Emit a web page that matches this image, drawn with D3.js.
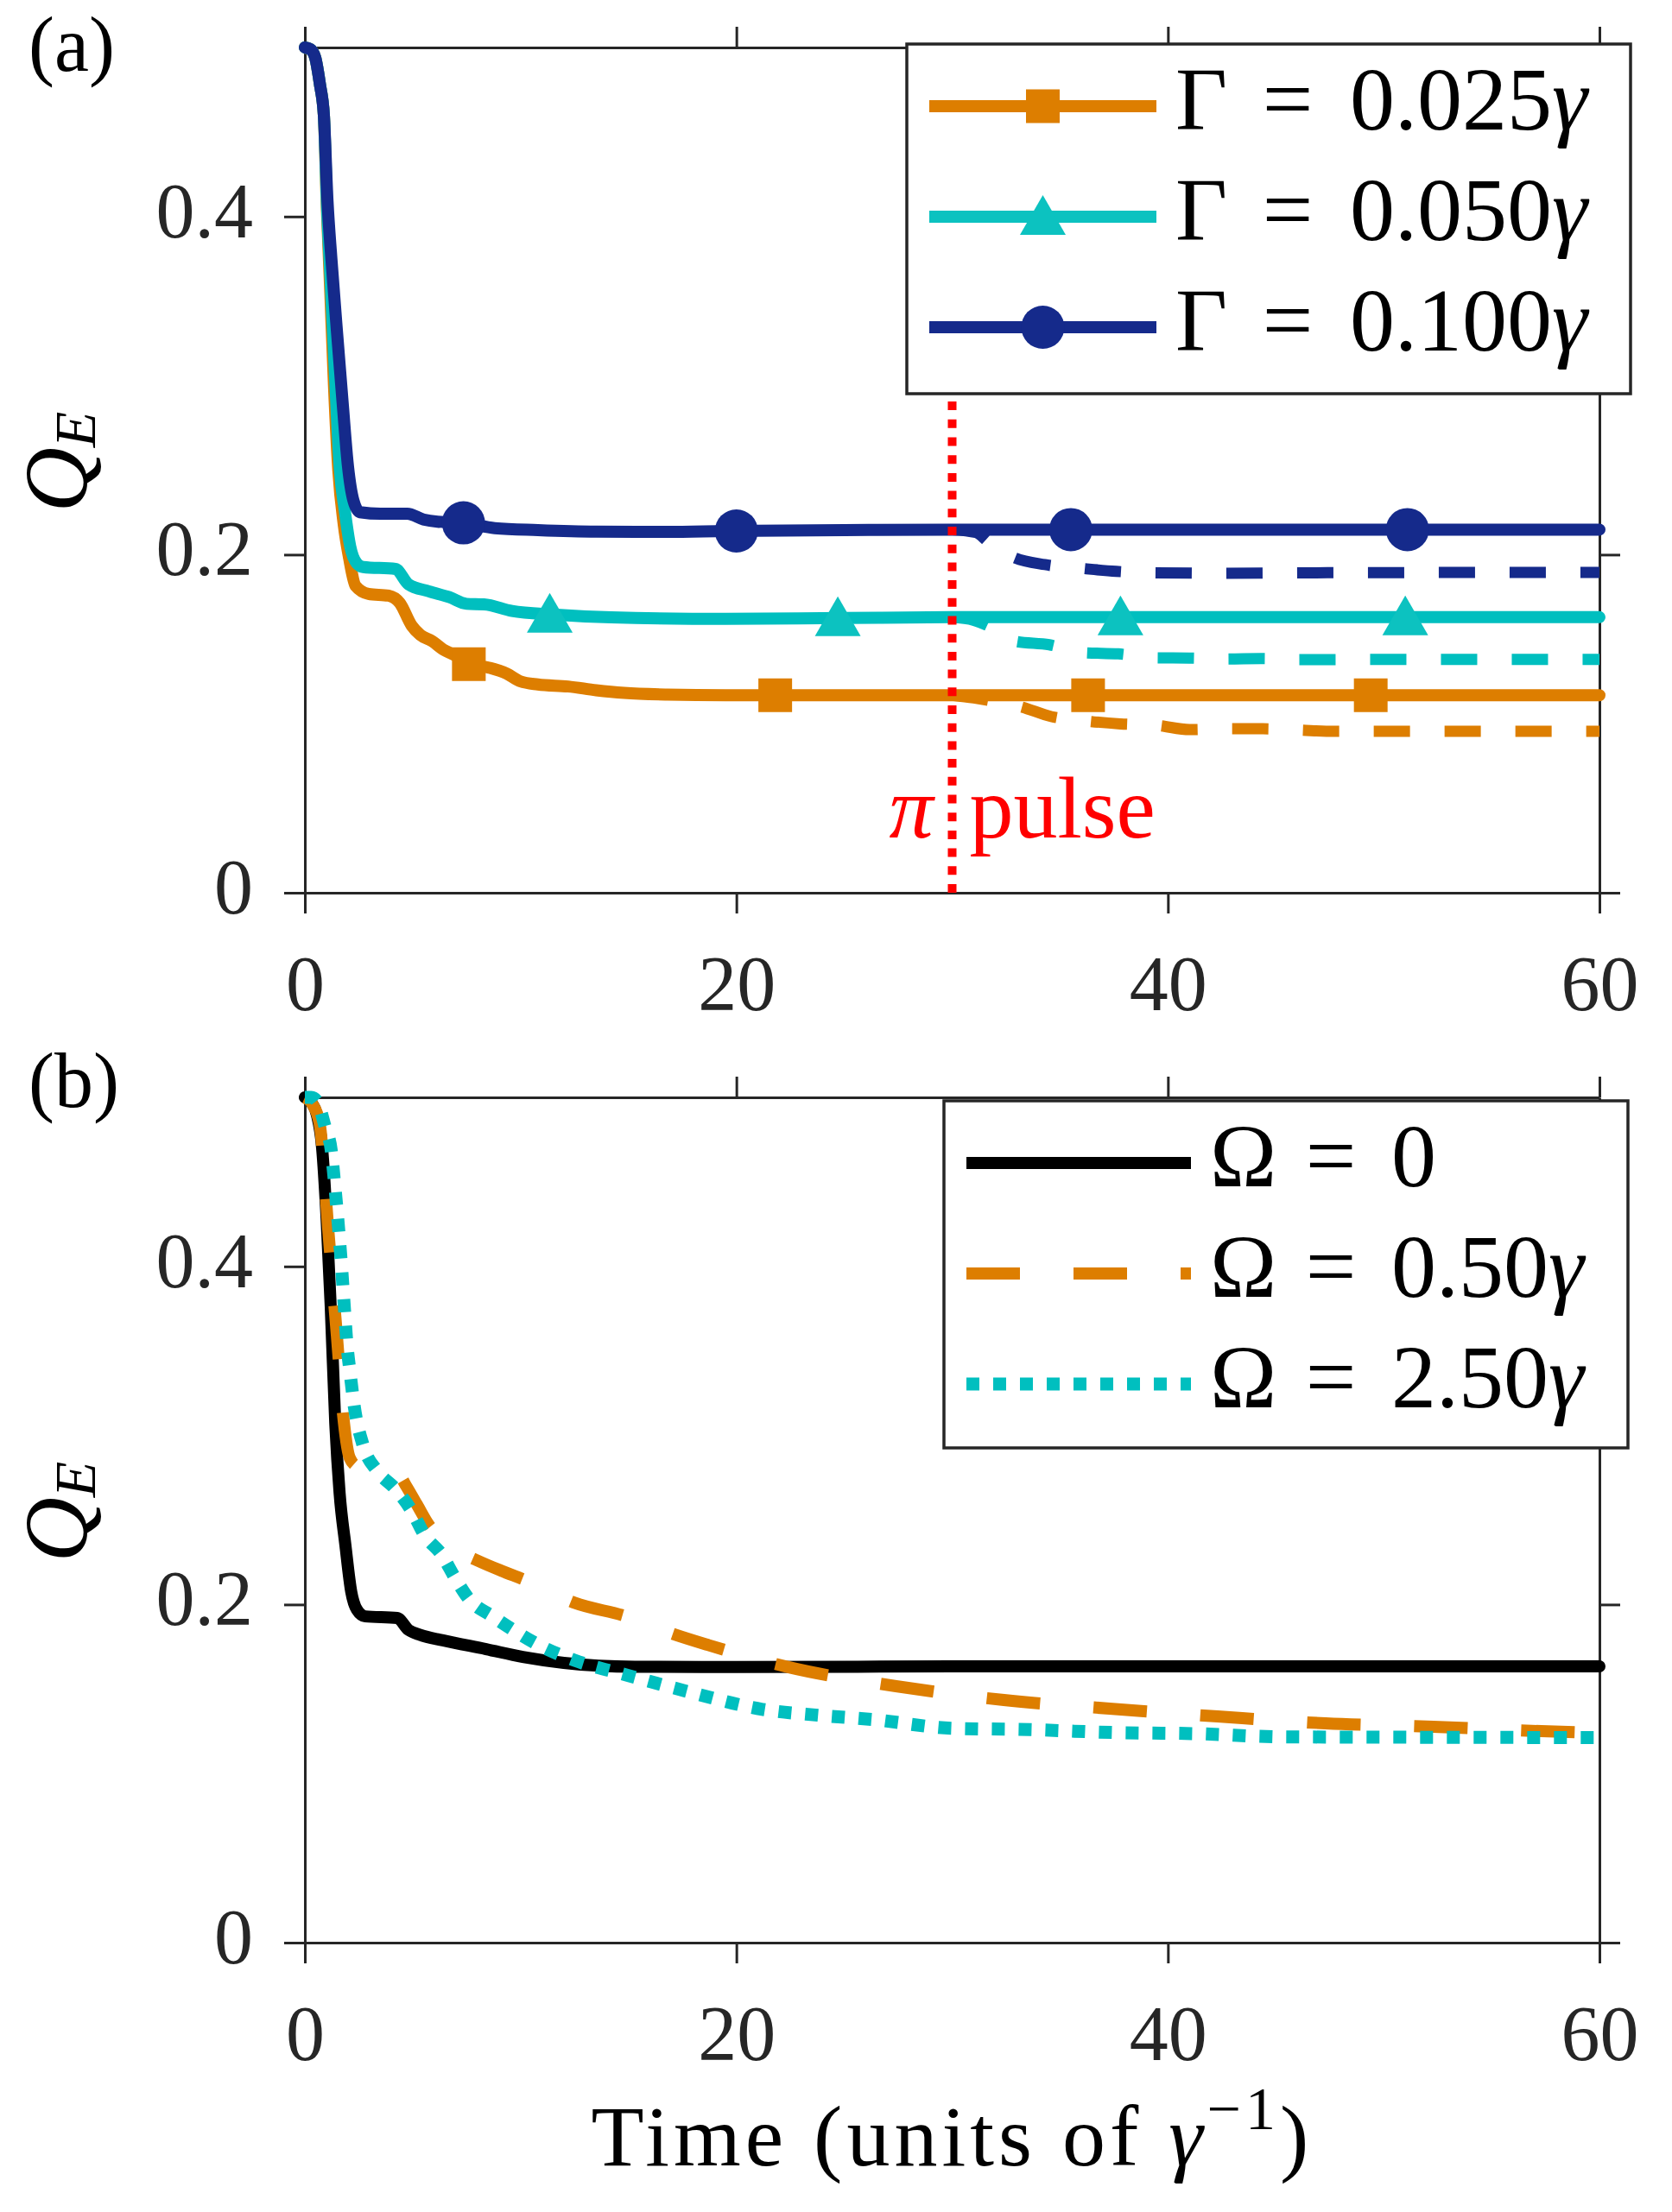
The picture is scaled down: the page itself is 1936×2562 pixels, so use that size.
<!DOCTYPE html>
<html>
<head>
<meta charset="utf-8">
<script src="https://cdn.jsdelivr.net/npm/d3@7"></script>
<style>
  body { margin: 0; background: white; }
  svg { display: block; }
</style>
</head>
<body>
<div id="figure"></div>
<script>
// Two stacked panels of Q_E against time.
// (a) three decay rates, with a pi pulse at t = 30 (dashed = after pulse)
// (b) three drive strengths

const timeTicks = [0, 20, 40, 60];
const qTicks = [0, 0.2, 0.4];

// ---- panel (a) ----
const gammaLabels = ["0.025", "0.050", "0.100"];
const pulseTime = 30;

const g025Time = [0, 0.25, 0.48, 0.7, 0.88, 1.02, 1.18, 1.35, 1.55, 1.8, 2.05, 2.35, 2.95, 3.88, 4.4, 4.95, 5.35, 5.9, 6.4, 6.95, 7.6, 8.55, 9.35, 10.0, 10.8, 12.2, 13.5, 14.8, 16.8, 19.5, 25, 30, 45, 60];
const g025Q = [0.5, 0.499, 0.494, 0.478, 0.46, 0.405, 0.355, 0.3, 0.25, 0.218, 0.198, 0.1815, 0.1768, 0.1757, 0.1714, 0.158, 0.1525, 0.1488, 0.144, 0.1405, 0.1355, 0.1331, 0.1297, 0.125, 0.1232, 0.122, 0.1198, 0.1182, 0.1172, 0.1168, 0.1168, 0.1168, 0.1168, 0.1168];
const g050Time = [0, 0.25, 0.48, 0.7, 0.88, 1.03, 1.2, 1.4, 1.61, 1.85, 2.1, 2.4, 2.7, 4.2, 4.8, 5.75, 6.7, 7.5, 8.3, 9.6, 11.5, 14.2, 19.5, 25, 30, 45, 60];
const g050Q = [0.5, 0.499, 0.494, 0.478, 0.46, 0.405, 0.36, 0.305, 0.252, 0.226, 0.205, 0.195, 0.1927, 0.1915, 0.1825, 0.1783, 0.1748, 0.1709, 0.1706, 0.1667, 0.1646, 0.1629, 0.162, 0.1625, 0.163, 0.163, 0.163];
const g100Time = [0, 0.25, 0.48, 0.7, 0.88, 1.05, 1.23, 1.5, 1.75, 2.0, 2.25, 2.55, 3.5, 4.75, 5.5, 6.15, 7.35, 8.8, 10.8, 13.5, 16.8, 19.5, 25, 30, 45, 60];
const g100Q = [0.5, 0.499, 0.494, 0.478, 0.46, 0.409, 0.375, 0.33, 0.29, 0.252, 0.232, 0.2251, 0.2242, 0.2242, 0.2208, 0.2195, 0.2188, 0.2157, 0.2145, 0.2136, 0.2135, 0.214, 0.2145, 0.2148, 0.2148, 0.2148];

// after the pi pulse
const g025PulseTime = [30, 31, 32, 33.15, 34.6, 36.2, 37.8, 39.5, 41, 42.8, 44.4, 46.1, 47.7, 52, 60];
const g025PulseQ = [0.1168, 0.1152, 0.113, 0.1101, 0.1042, 0.1016, 0.0999, 0.099, 0.0965, 0.097, 0.097, 0.0962, 0.0955, 0.0955, 0.0955];
const g050PulseTime = [30, 31, 31.8, 32.9, 34.5, 36.1, 37.7, 39.4, 41, 42.7, 44.3, 46, 50, 60];
const g050PulseQ = [0.163, 0.1612, 0.157, 0.1488, 0.1467, 0.142, 0.1413, 0.139, 0.1388, 0.1383, 0.1385, 0.1379, 0.138, 0.138];
const g100PulseTime = [30, 31.1, 31.7, 32.8, 34.3, 36, 37.6, 39.3, 42.5, 47.4, 60];
const g100PulseQ = [0.2148, 0.2131, 0.2072, 0.1987, 0.1941, 0.1919, 0.1901, 0.1893, 0.189, 0.1893, 0.1895];

// marker points
const g025MarkTime = [7.6, 21.8, 36.3, 49.4];
const g025MarkQ = [0.1352, 0.1168, 0.1168, 0.1168];
const g050MarkTime = [11.35, 24.7, 37.8, 51.0];
const g050MarkQ = [0.1646, 0.1625, 0.163, 0.163];
const g100MarkTime = [7.35, 20.0, 35.5, 51.1];
const g100MarkQ = [0.2188, 0.214, 0.2148, 0.2148];

// ---- panel (b) ----
const omegaLabels = ["0", "0.50", "2.50"];

const om0Time = [0, 0.3, 0.55, 0.8, 1.0, 1.2, 1.41, 1.61, 1.88, 2.15, 2.41, 2.8, 4.28, 4.8, 5.35, 6.4, 8.4, 10.1, 12, 15.3, 20, 30, 45, 60];
const om0Q = [0.5, 0.497, 0.49, 0.47, 0.43, 0.376, 0.307, 0.266, 0.235, 0.2075, 0.197, 0.193, 0.192, 0.185, 0.182, 0.1788, 0.1736, 0.169, 0.1655, 0.1632, 0.163, 0.1634, 0.1634, 0.1634];
const om050Time = [0, 0.35, 0.68, 1.08, 1.48, 1.81, 2.08, 2.4, 3.0, 3.8, 4.4, 4.7, 5.2, 5.75, 6.5, 7.2, 8.0, 9.1, 10.3, 12.5, 14.9, 17.2, 18.7, 22.4, 27.4, 32.4, 37.3, 42.3, 47.3, 52.3, 57.3, 60];
const om050Q = [0.5, 0.496, 0.4848, 0.4224, 0.3597, 0.3076, 0.2867, 0.282, 0.2805, 0.279, 0.276, 0.27, 0.259, 0.247, 0.238, 0.231, 0.226, 0.22, 0.214, 0.201, 0.193, 0.182, 0.176, 0.163, 0.1517, 0.1435, 0.1384, 0.1338, 0.1297, 0.1277, 0.1251, 0.124];
const om250Time = [0, 0.3, 0.55, 0.95, 1.23, 1.36, 1.5, 1.68, 1.85, 1.95, 2.08, 2.28, 2.68, 3.35, 4.15, 4.95, 5.55, 6.35, 6.95, 7.6, 8.7, 9.7, 11, 12.5, 15, 17.9, 21.2, 23.8, 26.3, 30, 33.6, 37.4, 41.3, 45.4, 50.9, 60];
const om250Q = [0.5, 0.5, 0.498, 0.482, 0.468, 0.4515, 0.432, 0.4035, 0.372, 0.354, 0.339, 0.318, 0.295, 0.279, 0.269, 0.2554, 0.241, 0.2293, 0.216, 0.2033, 0.193, 0.1846, 0.175, 0.167, 0.158, 0.148, 0.138, 0.1345, 0.132, 0.1268, 0.126, 0.1243, 0.1236, 0.1217, 0.1215, 0.1213];

const width = 1936;
const height = 2562;
const serif = "'Liberation Serif', 'Times New Roman', serif";
const axisColour = "#262626";
const orange = "#DD7E00";
const cyan = "#00BFBF";
const navy = "#152A8B";

const svg = d3
  .select("#figure")
  .append("svg")
  .attr("width", width)
  .attr("height", height)
  .attr("viewBox", `0 0 ${width} ${height}`);

svg.append("rect").attr("width", width).attr("height", height).attr("fill", "white");

const x = d3.scaleLinear().domain([0, 60]).range([353, 1852]);

// marker shapes
const squarePath = d3.symbol(d3.symbolSquare, 39 * 39)();
const circlePath = d3.symbol(d3.symbolCircle, Math.PI * 25 * 25)();
const trianglePath = "M0,-25L26.5,21L-26.5,21Z";

function drawAxes(y) {
  const axes = svg.append("g").style("color", axisColour);

  axes
    .append("g")
    .attr("transform", `translate(0,${y(0)})`)
    .call(d3.axisBottom(x).tickValues(timeTicks).tickSize(24).tickSizeOuter(0).tickPadding(48).tickFormat(d3.format("d")));
  axes
    .append("g")
    .attr("transform", `translate(0,${y(0.5)})`)
    .call(d3.axisTop(x).tickValues(timeTicks).tickSize(24).tickSizeOuter(0).tickFormat(""));
  axes
    .append("g")
    .attr("transform", `translate(${x(0)},0)`)
    .call(
      d3.axisLeft(y).tickValues(qTicks).tickSize(24).tickSizeOuter(0).tickPadding(36)
        .tickFormat((d) => (d === 0 ? "0" : d3.format(".1f")(d)))
    );
  axes
    .append("g")
    .attr("transform", `translate(${x(60)},0)`)
    .call(d3.axisRight(y).tickValues(qTicks).tickSize(24).tickSizeOuter(0).tickFormat(""));

  axes.selectAll("path, line").attr("stroke", axisColour).attr("stroke-width", 3);
  axes
    .selectAll("text")
    .style("font-family", serif)
    .style("font-size", "90px")
    .attr("fill", axisColour);
  axes.selectAll("g.tick text").filter(function () {
    return d3.select(this).attr("dy") === "0.32em";
  }).attr("dy", "0.26em");
}

function drawCurve(y, times, values, colour, lineWidth, dash) {
  const line = d3
    .line()
    .x((d) => x(d[0]))
    .y((d) => y(d[1]))
    .curve(d3.curveMonotoneX);

  svg
    .append("path")
    .datum(d3.zip(times, values))
    .attr("d", line)
    .attr("fill", "none")
    .attr("stroke", colour)
    .attr("stroke-width", lineWidth)
    .attr("stroke-linejoin", "round")
    .attr("stroke-linecap", dash ? "butt" : "round")
    .attr("stroke-dasharray", dash || null);
}

function drawMarkers(y, times, values, colour, shape) {
  svg
    .append("g")
    .selectAll("path")
    .data(d3.zip(times, values))
    .join("path")
    .attr("transform", (d) => `translate(${x(d[0])},${y(d[1])})`)
    .attr("d", shape)
    .attr("fill", colour);
}

function yLabel(cy) {
  const t = svg
    .append("text")
    .attr("transform", `translate(100,${cy}) rotate(-90)`)
    .attr("text-anchor", "middle")
    .style("font-family", serif)
    .style("font-style", "italic")
    .style("font-size", "104px")
    .attr("fill", "#000");
  t.append("tspan").text("Q");
  t.append("tspan").attr("dy", 10).style("font-size", "68px").text("E");
}

function panelTag(label, baseline) {
  svg
    .append("text")
    .attr("x", 33)
    .attr("y", baseline)
    .style("font-family", serif)
    .style("font-size", "90px")
    .attr("fill", "#000")
    .text(label);
}

// legend: box, then one row per entry (symbol, "=", value with gamma)
function drawLegend(box, lineX, textX, entries) {
  const lg = svg.append("g");
  lg.append("rect")
    .attr("x", box.x0)
    .attr("y", box.y0)
    .attr("width", box.x1 - box.x0)
    .attr("height", box.y1 - box.y0)
    .attr("fill", "white")
    .attr("stroke", axisColour)
    .attr("stroke-width", 3.5);

  entries.forEach(function (e, i) {
    const rowY = box.y0 + 72 + i * 128;
    lg.append("line")
      .attr("x1", lineX[0])
      .attr("x2", lineX[1])
      .attr("y1", rowY)
      .attr("y2", rowY)
      .attr("stroke", e.colour)
      .attr("stroke-width", e.width)
      .attr("stroke-dasharray", e.dash || null);
    if (e.shape) {
      lg.append("path")
        .attr("transform", `translate(${(lineX[0] + lineX[1]) / 2},${rowY})`)
        .attr("d", e.shape)
        .attr("fill", e.colour);
    }
    const base = rowY + 27;
    const textStyle = (sel) =>
      sel.style("font-family", serif).style("font-size", "104px").attr("fill", "#000");
    lg.append("text").attr("x", textX).attr("y", base).call(textStyle).text(e.symbol);
    lg.append("text")
      .attr("x", textX + e.eqOffset)
      .attr("y", base)
      .attr("text-anchor", "middle")
      .call(textStyle)
      .text("=");
    const v = lg
      .append("text")
      .attr("x", textX + e.numOffset)
      .attr("y", base)
      .call(textStyle);
    v.append("tspan").text(e.value);
    if (e.value !== "0") {
      v.append("tspan").style("font-style", "italic").text("\u03B3");
    }
  });
}

// ---------------- panel (a) ----------------
const ya = d3.scaleLinear().domain([0, 0.5]).range([1034, 55]);
drawAxes(ya);

drawCurve(ya, g025PulseTime, g025PulseQ, orange, 13, "42 40");
drawCurve(ya, g050PulseTime, g050PulseQ, cyan, 13, "42 40");
drawCurve(ya, g100PulseTime, g100PulseQ, navy, 13, "42 40");

drawCurve(ya, g025Time, g025Q, orange, 14);
drawCurve(ya, g050Time, g050Q, cyan, 14);
drawCurve(ya, g100Time, g100Q, navy, 14);

drawMarkers(ya, g025MarkTime, g025MarkQ, orange, squarePath);
drawMarkers(ya, g050MarkTime, g050MarkQ, "#0CC2C0", trianglePath);
drawMarkers(ya, g100MarkTime, g100MarkQ, navy, circlePath);

// pi pulse marker line
svg
  .append("line")
  .attr("x1", x(pulseTime))
  .attr("x2", x(pulseTime))
  .attr("y1", ya(0))
  .attr("y2", ya(0.5))
  .attr("stroke", "#FF0000")
  .attr("stroke-width", 10)
  .attr("stroke-dasharray", "10 10.7");

const pulseText = svg
  .append("g")
  .style("font-family", serif)
  .style("font-size", "102px")
  .attr("fill", "#FF0000");
pulseText
  .append("text")
  .attr("x", x(pulseTime) - 22)
  .attr("y", 970)
  .attr("text-anchor", "end")
  .style("font-style", "italic")
  .text("\u03C0");
pulseText
  .append("text")
  .attr("x", x(pulseTime) + 20)
  .attr("y", 970)
  .text("pulse");

drawLegend(
  { x0: 1050, x1: 1888, y0: 51, y1: 456 },
  [1076, 1339],
  1361,
  [
    { colour: orange, width: 14, shape: squarePath, symbol: "\u0393", value: gammaLabels[0], eqOffset: 130, numOffset: 202 },
    { colour: "#0CC2C0", width: 14, shape: trianglePath, symbol: "\u0393", value: gammaLabels[1], eqOffset: 130, numOffset: 202 },
    { colour: navy, width: 14, shape: circlePath, symbol: "\u0393", value: gammaLabels[2], eqOffset: 130, numOffset: 202 },
  ]
);

panelTag("(a)", 82);
yLabel(535);

// ---------------- panel (b) ----------------
const yb = d3.scaleLinear().domain([0, 0.5]).range([2250, 1271]);
drawAxes(yb);

drawCurve(yb, om0Time, om0Q, "#000000", 14);
drawCurve(yb, om050Time, om050Q, orange, 14, "62 62");
drawCurve(yb, om250Time, om250Q, cyan, 15, "15 16");

drawLegend(
  { x0: 1093, x1: 1885, y0: 1275, y1: 1677 },
  [1119, 1379],
  1401,
  [
    { colour: "#000000", width: 14, symbol: "\u03A9", value: omegaLabels[0], eqOffset: 140, numOffset: 210 },
    { colour: orange, width: 14, dash: "62 62", symbol: "\u03A9", value: omegaLabels[1], eqOffset: 140, numOffset: 210 },
    { colour: cyan, width: 15, dash: "15 16", symbol: "\u03A9", value: omegaLabels[2], eqOffset: 140, numOffset: 210 },
  ]
);

panelTag("(b)", 1282);
yLabel(1751);

// x axis title
const xTitle = svg
  .append("text")
  .attr("x", (x(0) + x(60)) / 2)
  .attr("y", 2508)
  .attr("text-anchor", "middle")
  .style("font-family", serif)
  .style("font-size", "100px")
  .style("letter-spacing", "5px")
  .attr("fill", "#000");
xTitle.append("tspan").text("Time (units of ");
xTitle.append("tspan").style("font-style", "italic").text("\u03B3");
xTitle.append("tspan").attr("dy", -42).style("font-size", "70px").text("\u22121");
xTitle.append("tspan").attr("dy", 42).text(")");
</script>
</body>
</html>
